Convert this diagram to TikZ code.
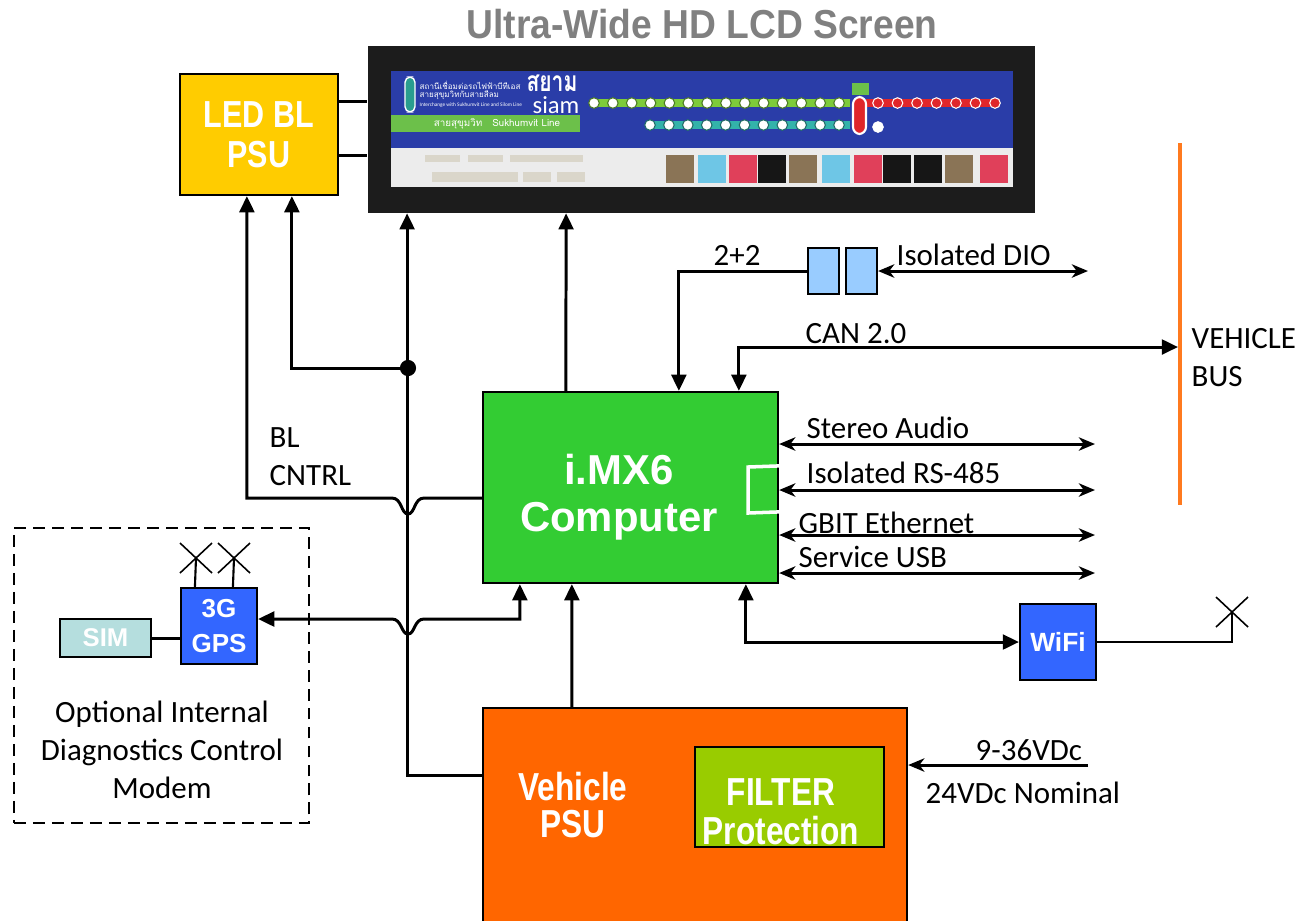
\documentclass[tikz,border=0pt]{standalone}
\usepackage{fontspec}
\setmainfont{Carlito}
\newfontfamily\boxfont{Liberation Sans}
\newfontfamily\narrowfont[FakeStretch=0.81]{Liberation Sans}
\newfontfamily\titlefont[FakeStretch=0.92]{Liberation Sans}
\newfontfamily\thaifont[Script=Thai]{Loma}
\newfontfamily\thainarrow[Script=Thai, FakeStretch=0.75]{Loma}
\usetikzlibrary{arrows.meta,calc}

\definecolor{ledyel}{HTML}{FFCC00}
\definecolor{cpugreen}{HTML}{33CC33}
\definecolor{psuorange}{HTML}{FF6600}
\definecolor{filtgreen}{HTML}{99CC00}
\definecolor{modblue}{HTML}{3366FF}
\definecolor{simteal}{HTML}{B5DEDE}
\definecolor{isoblue}{HTML}{99CCFF}
\definecolor{busorange}{HTML}{FF7A1F}
\definecolor{titlegrey}{HTML}{808080}
\definecolor{lcdframe}{HTML}{1C1C1C}
\definecolor{screenblue}{HTML}{2A3DA8}
\definecolor{screenpale}{HTML}{ECECEC}
\definecolor{bargreen}{HTML}{6CC04A}
\definecolor{linegreen}{HTML}{7DCB3A}
\definecolor{lineteal}{HTML}{33B3AA}
\definecolor{linered}{HTML}{E0262A}
\definecolor{pillteal}{HTML}{2A9D8F}
\definecolor{adphoto}{HTML}{8A7456}
\definecolor{adsky}{HTML}{6EC6E6}
\definecolor{adred}{HTML}{E0405A}
\definecolor{adblack}{HTML}{161616}
\definecolor{mapbeige}{HTML}{DAD6CA}

\tikzset{
  block/.style={draw=black, line width=0.6pt, inner sep=0pt, align=center, text=white},
  wire/.style={line width=0.85pt},
  tri/.style={wire, -{Triangle[length=4.6pt,width=4.2pt]}},
  tritri/.style={wire, {Triangle[length=4.6pt,width=4.2pt]}-{Triangle[length=4.6pt,width=4.2pt]}},
  stl/.style={wire, -{Stealth[length=4.6pt,width=3.8pt,inset=1.4pt]}},
  stlstl/.style={wire, {Stealth[length=4.6pt,width=3.8pt,inset=1.4pt]}-{Stealth[length=4.6pt,width=3.8pt,inset=1.4pt]}},
  lbl/.style={font=\fontsize{8.8}{10.8}\selectfont, inner sep=0pt},
  bigtxt/.style={text=white, align=center, inner sep=0pt},
  antenna/.style={line width=0.45pt},
}

\begin{document}
\begin{tikzpicture}[x=0.01cm, y=-0.01cm]
    \useasboundingbox (0,0) rectangle (1303,920);
    % Title and screen
    \node[font=\titlefont\bfseries\fontsize{11.5}{12}\selectfont, text=titlegrey, inner sep=0pt] (title) at (702,24) {Ultra-Wide HD LCD Screen};
    \node[fill=lcdframe, minimum width=6.67cm, minimum height=1.66cm, inner sep=0pt] (lcd) at (701.5,129.5) {};
    \fill[screenblue] (391,71) rectangle (1013,148);
    \fill[screenpale] (391,148) rectangle (1013,187);
    \draw[white, fill=pillteal, rounded corners=1.5pt, line width=0.4pt] (405,77) rectangle (415,112);
    \node[white, anchor=west, inner sep=0pt, font=\thaifont\fontsize{2.3}{3}\selectfont] (th1) at (419,85) {สถานีเชื่อมต่อรถไฟฟ้าบีทีเอส};
    \node[white, anchor=west, inner sep=0pt, font=\thaifont\fontsize{2.3}{3}\selectfont] (th2) at (419,95) {สายสุขุมวิทกับสายสีลม};
    \node[white, anchor=west, inner sep=0pt, font=\fontsize{1.5}{2}\selectfont] (th3) at (419,105) {Interchange with Sukhumvit Line and Silom Line};
    \node[white, inner sep=0pt, text depth=0pt, anchor=base, font=\thainarrow\bfseries\fontsize{8}{9}\selectfont] (siamth) at (552,91) {สยาม};
    \node[white, inner sep=0pt, text height=3.6pt, anchor=base, font=\fontsize{7}{7}\selectfont] (siamen) at (556,113) {siam};
    \fill[bargreen] (391,115) rectangle (580,132);
    \node[white, inner sep=0pt, font=\thaifont\fontsize{2.8}{3}\selectfont] (lineth) at (497,123.5) {สายสุขุมวิท\quad Sukhumvit Line};
    % Station lines
    \draw[linegreen, line width=2.4pt] (590,103) -- (850,103);
    \draw[lineteal, line width=2.4pt] (647,125) -- (850,125);
    \draw[linered, line width=2.4pt] (866,103) -- (1000,103);
    \foreach \i in {0,...,13} {
            \draw[linegreen!60!black, fill=white, line width=0.3pt] ({594+18.85*\i},103) circle (1.5pt);
        }
    \foreach \i in {0,...,10} {
            \draw[lineteal!60!black, fill=white, line width=0.3pt] ({650+18.9*\i},125) circle (1.5pt);
        }
    \foreach \i in {0,...,6} {
            \draw[white, fill=linered, line width=0.3pt] ({878+19.5*\i},103) circle (1.5pt);
        }
    \draw[white, fill=white, line width=0.3pt] (878,127) circle (1.5pt);
    \fill[bargreen] (852,83) rectangle (869,95);
    \draw[white, fill=linered, rounded corners=2pt, line width=0.6pt] (853,97) rectangle (866,134);
    % Lower panel
    \foreach \a/\b/\c/\d in {425/155/460/162, 468/155/503/162, 510/155/583/162, 432/172/518/182, 523/172/551/182, 557/172/585/182} {
            \fill[mapbeige] (\a,\b) rectangle (\c,\d);
        }
    \foreach \x/\c in {666/adphoto, 698/adsky, 729/adred, 758/adblack, 789/adphoto, 822/adsky, 854/adred, 883/adblack, 914/adblack, 945/adphoto, 980/adred} {
            \fill[\c] (\x,155) rectangle ++(28,28);
        }

    % Blocks
    \node[block, fill=ledyel, minimum width=1.58cm, minimum height=1.21cm, font=\narrowfont\bfseries\fontsize{10.7}{11.3}\selectfont] (led) at (259,134.5) {LED BL\\PSU};
    \node[block, fill=cpugreen, minimum width=2.95cm, minimum height=1.91cm] (comp) at (630.5,487.5) {};
    \node[bigtxt, font=\boxfont\bfseries\fontsize{11.9}{13.3}\selectfont] (comptxt) at (619,497) {i.MX6\\Computer};
    \node[block, fill=psuorange, minimum width=4.24cm, minimum height=2.2cm] (psu) at (695,818) {};
    \node[bigtxt, font=\narrowfont\bfseries\fontsize{11.1}{10.5}\selectfont] (psutxt) at (573,805) {Vehicle\\PSU};
    \node[block, fill=filtgreen, minimum width=1.89cm, minimum height=1.0cm] (filt) at (789.5,797) {};
    \node[bigtxt, font=\narrowfont\bfseries\fontsize{11.1}{11}\selectfont] (filttxt) at (781,811.5) {FILTER\\Protection};
    \node[block, fill=modblue, minimum size=0.76cm, font=\boxfont\bfseries\fontsize{7.5}{9}\selectfont] (wifi) at (1058,642) {WiFi};
    \node[block, fill=modblue, minimum size=0.76cm, font=\boxfont\bfseries\fontsize{7.4}{9.9}\selectfont] (gps) at (219,626) {3G\\GPS};
    \node[block, fill=simteal, minimum width=0.91cm, minimum height=0.38cm, font=\boxfont\bfseries\fontsize{7.3}{8}\selectfont] (sim) at (105.5,638) {SIM};
    \node[block, fill=isoblue, minimum width=0.31cm, minimum height=0.46cm] (isoA) at (823.5,271) {};
    \node[block, fill=isoblue, minimum width=0.31cm, minimum height=0.46cm] (isoB) at (861.5,271) {};
    \node[draw, dash pattern=on 3.4pt off 2pt, line width=0.6pt, minimum size=2.95cm, inner sep=0pt] (modem) at (161.5,675.5) {};
    \node[lbl, align=center] (modemtxt) at (162,750) {Optional Internal\\Diagnostics Control\\Modem};

    % Labels
    \node[lbl, anchor=base west] (twotwo) at (713,265) {2+2};
    \node[lbl, anchor=base west] (diolbl) at (896,265) {Isolated DIO};
    \node[lbl, anchor=base west] (canlbl) at (805,343) {CAN 2.0};
    \node[lbl, anchor=north west, align=left] (buslbl) at (1191,328) {VEHICLE\\BUS};
    \node[lbl, anchor=north west, align=left] (bllbl) at (269,427) {BL\\CNTRL};
    \node[lbl, anchor=base west] (vinlbl) at (975,760) {9-36VDc};
    \node[lbl, anchor=base west] (nomlbl) at (925,803) {24VDc Nominal};

    % Free ends
    \coordinate (jn) at (408,368);
    \coordinate (dio) at (1088,271);
    \coordinate (canbus) at (1178,347);
    \coordinate (busT) at (1180,143);
    \coordinate (busB) at (1180,505);
    \coordinate (vin) at (1088,765);
    \coordinate (ant1) at (196,558);
    \coordinate (ant2) at (234,558);
    \coordinate (ant3) at (1232,612);

    % LED PSU to screen
    \draw[wire] ($(led.north east)+(0,29)$) coordinate (ledA) -- (ledA -| lcd.west);
    \draw[wire] ($(led.north east)+(0,83)$) coordinate (ledB) -- (ledB -| lcd.west);
    % BL control with hop
    \draw[tri] ($(comp.west)+(0,10.5)$) -- (424,498) .. controls (414,498) and (415,514) .. (408,514)
        .. controls (401,514) and (402,498) .. (392,498) -| ($(led.south west)+(68,0)$);
    % Power rail
    \draw[tri] ($(psu.west)+(0,-43)$) -| ($(lcd.south west)+(40,0)$);
    \fill (jn) circle (2.3pt);
    \draw[tri] (jn) -| ($(led.south west)+(113,0)$);
    \draw[tri] ($(comp.north west)+(84,0)$) -- ($(lcd.south west)+(199,0)$);
    % DIO and CAN
    \draw[tri] (isoA.west) -| ($(comp.north west)+(197,0)$);
    \draw[stlstl] (isoB.east) -- (dio);
    \draw[busorange, line width=1.4pt] (busT) -- (busB);
    \draw[tritri] (canbus) -| ($(comp.north west)+(257,0)$);
    % Right side interfaces
    \foreach \y/\lx/\ly/\txt in {444/806/438/Stereo Audio, 490/806/483/Isolated RS-485, 535/798/533/GBIT Ethernet, 573/798/567/Service USB} {
            \coordinate (io\y) at (1095,\y);
            \draw[stlstl] (comp.east |- io\y) -- (io\y);
            \node[lbl, anchor=base west] (io\y lbl) at (\lx,\ly) {\txt};
        }
    \draw[white, line width=1pt] ($(comp.north east)+(0,75)$) -- (748,467) -- (748,513) -- ($(comp.north east)+(0,121)$);
    % Modem link with hop
    \draw[tritri] ($(comp.south west)+(38,0)$) |- (424,619) .. controls (414,619) and (415,634) .. (408,634)
        .. controls (401,634) and (402,619) .. (392,619) -- ($(gps.east)+(0,-7)$);
    \draw[wire] (sim.east) -- (gps.west |- sim.east);
    \draw[line width=0.6pt] ($(gps.north west)+(15,0)$) -- (ant1);
    \draw[line width=0.6pt] ($(gps.north west)+(53,0)$) -- (ant2);
    % Supply and WiFi
    \draw[tri] ($(psu.north west)+(90,0)$) -- ($(comp.south west)+(90,0)$);
    \draw[tritri] ($(comp.south west)+(264,0)$) |- (wifi.west);
    \draw[line width=0.6pt] (wifi.east) -| (ant3);
    \draw[stl] (vin) -- (psu.east |- vin);
    % Antennas
    \foreach \a in {ant1,ant2,ant3} {
            \draw[antenna] (\a) +(-16,-15) -- +(16,15) +(-16,15) -- +(16,-15);
        }
\end{tikzpicture}
\end{document}
